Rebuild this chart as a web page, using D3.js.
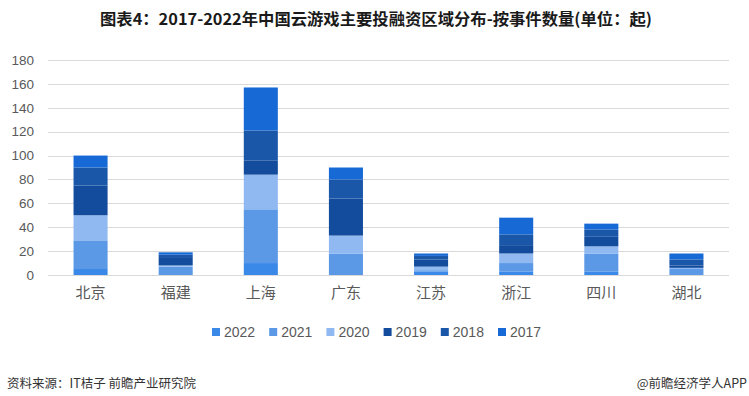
<!DOCTYPE html>
<meta charset="utf-8">
<style>
  body { margin: 0; background: #fff; }
  text { font-family: "Noto Sans CJK SC", "Noto Sans", sans-serif; }
</style>
<svg width="749" height="396"></svg>

<script src="https://d3js.org/d3.v7.min.js"></script>
<script>

// regions on the x axis
var regions = ["北京", "福建", "上海", "广东", "江苏", "浙江", "四川", "湖北"];

// stack order, bottom to top
var years = ["2022", "2021", "2020", "2019", "2018", "2017"];

// event counts per year, same order as regions
var v2022 = [5, 0, 10, 0, 3, 3, 3, 0];
var v2021 = [24, 7, 45, 18, 1, 7, 15, 5];
var v2020 = [21, 1, 29, 15, 3, 8, 6, 1];
var v2019 = [25, 7, 12, 31, 6, 7, 8, 2];
var v2018 = [15, 2, 25, 16, 3, 9, 6, 5];
var v2017 = [10, 2, 36, 10, 2, 14, 5, 5];

var yTicks = [0, 20, 40, 60, 80, 100, 120, 140, 160, 180];

var colors = ["#3a88e8", "#5b98e6", "#90b9f2", "#134c9d", "#1b57a9", "#176ad6"];

var width = 749
var height = 396
var svg = d3.select("svg")

// build rows for d3.stack
var series = [v2022, v2021, v2020, v2019, v2018, v2017];
var rows = regions.map(function(r, i) {
  var row = { region: r };
  years.forEach(function(y, k) { row[y] = series[k][i] });
  return row;
});

var stacked = d3.stack().keys(years)(rows);

var x = d3.scaleBand()
    .domain(regions)
    .range([48, 729])
    .paddingInner(0.6)
    .paddingOuter(0.3)

var y = d3.scaleLinear()
    .domain([0, 180])
    .range([275, 60])

var color = d3.scaleOrdinal().domain(years).range(colors)

// title
svg.append("text")
    .attr("x", 376)
    .attr("y", 25)
    .attr("text-anchor", "middle")
    .attr("font-size", 16)
    .attr("font-weight", "bold")
    .attr("fill", "#1a1a1a")
    .attr("textLength", 552)
    .attr("lengthAdjust", "spacingAndGlyphs")
    .text("图表4：2017-2022年中国云游戏主要投融资区域分布-按事件数量(单位：起)")

// gridlines
svg.append("g")
  .selectAll("line")
  .data(yTicks)
  .enter().append("line")
    .attr("x1", 48)
    .attr("x2", 729)
    .attr("y1", function(d) { return Math.round(y(d)) + 0.5 })
    .attr("y2", function(d) { return Math.round(y(d)) + 0.5 })
    .attr("stroke", "#d9d9d9")
    .attr("stroke-width", 1)

// y axis labels
var yAxis = svg.append("g")
    .attr("transform", "translate(34,0)")
    .call(d3.axisLeft(y).tickValues(yTicks).tickSize(0).tickPadding(0))
yAxis.select(".domain").remove()
yAxis.selectAll("text")
    .attr("font-size", 13.5)
    .attr("fill", "#595959")
    .style("font-family", "'Liberation Sans', Arial, sans-serif")

// bars
svg.append("g")
  .selectAll("g")
  .data(stacked)
  .enter().append("g")
    .attr("fill", function(d) { return color(d.key) })
  .selectAll("rect")
  .data(function(d) { return d })
  .enter().append("rect")
    .attr("x", function(d) { return x(d.data.region) })
    .attr("width", x.bandwidth())
    .attr("y", function(d) { return y(d[1]) })
    .attr("height", function(d) { return y(d[0]) - y(d[1]) })

// x axis labels
var xAxis = svg.append("g")
    .attr("transform", "translate(0,284)")
    .call(d3.axisBottom(x).tickSize(0).tickPadding(0))
xAxis.select(".domain").remove()
xAxis.selectAll("text")
    .attr("dy", "0.9em")
    .attr("font-size", 15)
    .attr("fill", "#595959")

// legend
var legend = svg.append("g")
  .selectAll("g")
  .data(years)
  .enter().append("g")
    .attr("transform", function(d, i) { return "translate(" + (212 + i * 57.2) + ",328)" })

legend.append("rect")
    .attr("width", 8)
    .attr("height", 8)
    .attr("fill", function(d) { return color(d) })

legend.append("text")
    .attr("x", 12)
    .attr("y", 9)
    .attr("font-size", 14)
    .attr("fill", "#595959")
    .style("font-family", "'Liberation Sans', Arial, sans-serif")
    .text(function(d) { return d })

// footer
svg.append("text")
    .attr("x", 7)
    .attr("y", 388)
    .attr("font-size", 12.5)
    .attr("fill", "#333")
    .text("资料来源：IT桔子 前瞻产业研究院")

svg.append("text")
    .attr("x", 747)
    .attr("y", 388)
    .attr("text-anchor", "end")
    .attr("font-size", 12.5)
    .attr("fill", "#333")
    .text("@前瞻经济学人APP")

</script>
